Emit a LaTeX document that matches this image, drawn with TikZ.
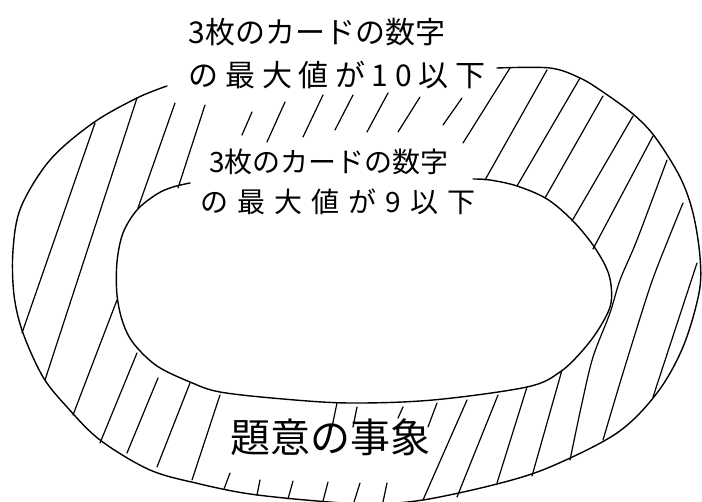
\documentclass[tikz,border=0pt]{standalone}
\usepackage{fontspec}
\newfontfamily\jp{Noto Sans CJK JP}
\begin{document}
\begin{tikzpicture}[x=1pt,y=-1pt,
  edge/.style={line width=1.4pt, line cap=round, line join=round},
  hatch/.style={line width=1.2pt, line cap=round, line join=round},
  lbl/.style={inner sep=0pt, font=\jp}]
\useasboundingbox (0,0) rectangle (702,502);
\fill[white] (0,0) rectangle (702,502);
% outer boundary (open at the top)
\draw[edge] plot[smooth, tension=0.55] coordinates {
 (167,86) (137,98) (93,123) (50,160) (21,207) (13,250) (14,295) (23,333)
 (43,377) (67,407) (100,440) (150,470) (200,484) (250,494) (317,501)
 (370,504) (423,500) (497,484) (550,467) (617,433) (657,393) (683,347)
 (699,293) (700,257) (693,213) (680,177) (655,137) (633,114) (603,92)
 (580,78) (550,68) (497,68)};
% inner boundary (open at the top)
\draw[edge] plot[smooth, tension=0.55] coordinates {
 (190,183) (173,187) (157,194) (137,210) (123,233) (117,262) (117,295)
 (123,323) (134,344) (157,366) (190,382) (220,392) (283,399) (350,403)
 (433,400) (527,387) (560,372) (583,350) (600,327) (611,303) (609,275)
 (595,248) (573,221) (547,199) (517,186) (490,180) (473,179)};
% hatching
\foreach \xa/\ya/\xb/\yb in {
 95/123/22/333, 137/98/45/380, 175/103/138/208, 205/105/178/188,
 117/300/73/415, 137/353/100/443, 158/378/127/453, 190/383/157/467,
 220/395/192/480,
 230/473/224/489, 260/480/257/495, 293/481/288/499, 328/482/323/501,
 360/483/354/502, 387/483/383/502,
 337/403/332/427, 357/407/353/427, 403/407/398/418, 437/403/428/427,
 467/400/423/500, 498/395/457/497, 527/387/497/483, 562/370/532/476,
 697/263/653/397,
 252/112/242/135, 285/102/267/142, 323/95/303/137, 353/95/335/130,
 388/93/367/132, 420/97/398/132, 462/98/443/125,
 510/68/463/143, 547/70/485/180, 580/78/517/186, 603/96/545/198,
 633/116/572/221, 653/136/593/249}
 \draw[hatch] (\xa,\ya) -- (\xb,\yb);
\draw[hatch] plot[smooth, tension=0.5] coordinates {(667,160) (637,240) (620,280) (610,313) (593,357) (582,403) (570,460)};
\draw[hatch] plot[smooth, tension=0.5] coordinates {(683,203) (668,240) (650,287) (623,373) (603,440)};
% labels
\node[lbl, font=\jp\fontsize{30}{30}\selectfont] (t1) at (317,32) {3枚のカードの数字};
\node[lbl, font=\jp\fontsize{30}{30}\selectfont\addfontfeatures{LetterSpace=22}] (t2) at (337,75) {の最大値が10以下};
\node[lbl, font=\jp\fontsize{28}{28}\selectfont] (i1) at (329,162) {3枚のカードの数字};
\node[lbl, font=\jp\fontsize{28}{28}\selectfont\addfontfeatures{LetterSpace=32}] (i2) at (338,202) {の最大値が9以下};
\node[lbl, font=\jp\fontsize{40}{40}\selectfont] (ev) at (330,437) {題意の事象};
\end{tikzpicture}
\end{document}
